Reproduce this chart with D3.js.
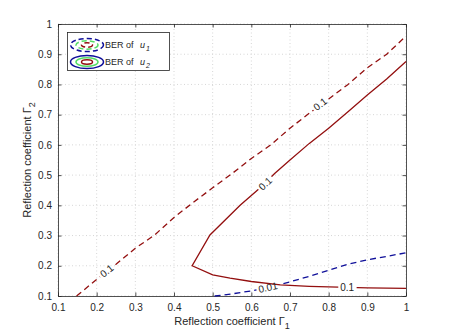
<!DOCTYPE html>
<html>
<head>
<meta charset="utf-8">
<script src="https://cdn.jsdelivr.net/npm/d3@7"></script>
<style>
  body { margin: 0; background: #fff; }
  text { font-family: "Liberation Sans", Arial, sans-serif; fill: #262626; }
</style>
</head>
<body>
<div id="chart"></div>
<script>
// contour data: [gamma1, gamma2]
const u1Contour01 = [[0.148,0.1],[0.2,0.155],[0.25,0.205],[0.3,0.258],[0.35,0.302],[0.4,0.36],[0.45,0.41],[0.5,0.458],[0.55,0.505],[0.6,0.555],[0.65,0.6],[0.7,0.655],[0.75,0.705],[0.8,0.752],[0.85,0.8],[0.9,0.855],[0.95,0.9],[1,0.96]];
const u1Contour001 = [[0.505,0.1],[0.55,0.107],[0.6,0.117],[0.65,0.13],[0.7,0.147],[0.75,0.165],[0.8,0.185],[0.85,0.205],[0.9,0.22],[0.95,0.231],[1,0.243]];
const u2Contour01 = [[1,0.876],[0.95,0.818],[0.9,0.765],[0.85,0.71],[0.8,0.655],[0.75,0.605],[0.7,0.55],[0.661,0.506],[0.62,0.455],[0.571,0.4],[0.493,0.302],[0.447,0.2],[0.5,0.17],[0.545,0.159],[0.6,0.148],[0.675,0.137],[0.75,0.132],[0.8,0.13],[0.9,0.127],[1,0.125]];

// label positions [x, y, text, angle]
const u1Labels01 = [[0.226,0.183,"0.1",-38],[0.778,0.735,"0.1",-38]];
const u1Labels001 = [[0.643,0.128,"0.01",-12]];
const u2Labels01 = [[0.636,0.472,"0.1",-43],[0.848,0.127,"0.1",0]];

const xTicks = [0.1,0.2,0.3,0.4,0.5,0.6,0.7,0.8,0.9,1];
const yTicks = [0.1,0.2,0.3,0.4,0.5,0.6,0.7,0.8,0.9,1];

const width = 449, height = 336;
const margin = { left: 58, right: 43, top: 24, bottom: 40 };
const red = "#930f0f", blue = "#10109a", green = "#55dd66";

const svg = d3.select("#chart").append("svg")
  .attr("width", width).attr("height", height);

const x = d3.scaleLinear().domain([0.1, 1]).range([margin.left, width - margin.right]);
const y = d3.scaleLinear().domain([0.1, 1]).range([height - margin.bottom, margin.top]);

//grid
svg.append("g").selectAll("line").data(xTicks).enter().append("line")
  .attr("x1", d => x(d)).attr("x2", d => x(d))
  .attr("y1", y(0.1)).attr("y2", y(1))
  .attr("stroke", "#d6d6d6").attr("stroke-dasharray", "1,2.5");
svg.append("g").selectAll("line").data(yTicks).enter().append("line")
  .attr("y1", d => y(d)).attr("y2", d => y(d))
  .attr("x1", x(0.1)).attr("x2", x(1))
  .attr("stroke", "#d6d6d6").attr("stroke-dasharray", "1,2.5");

//axes
const fmt = d => d === 1 ? "1" : d3.format(".1f")(d);
const tickLen = 3.5;
const xAxis = svg.append("g").attr("transform", `translate(0,${y(0.1)})`)
  .call(d3.axisBottom(x).tickValues(xTicks).tickFormat(fmt).tickSizeInner(-tickLen).tickSizeOuter(0).tickPadding(8));
const xAxisTop = svg.append("g").attr("transform", `translate(0,${y(1)})`)
  .call(d3.axisTop(x).tickValues(xTicks).tickFormat("").tickSizeInner(-tickLen).tickSizeOuter(0));
const yAxis = svg.append("g").attr("transform", `translate(${x(0.1)},0)`)
  .call(d3.axisLeft(y).tickValues(yTicks).tickFormat(fmt).tickSizeInner(-tickLen).tickSizeOuter(0).tickPadding(6));
const yAxisRight = svg.append("g").attr("transform", `translate(${x(1)},0)`)
  .call(d3.axisRight(y).tickValues(yTicks).tickFormat("").tickSizeInner(-tickLen).tickSizeOuter(0));

[xAxis, xAxisTop, yAxis, yAxisRight].forEach(g => {
  g.select(".domain").attr("stroke", "#262626").attr("stroke-width", 0.8);
  g.selectAll(".tick line").attr("stroke", "#262626").attr("stroke-width", 0.8);
  g.selectAll("text").attr("font-size", 10).attr("fill", "#262626")
    .attr("font-family", "Liberation Sans, Arial, sans-serif");
});

//contour lines + labels, masks cut gaps in the lines
const defs = svg.append("defs");
const line = d3.line().x(d => x(d[0])).y(d => y(d[1]));
const lineLayer = svg.append("g");
const labelLayer = svg.append("g");

function drawContour(id, pts, labels, color, dash) {
  const mask = defs.append("mask").attr("id", id)
    .attr("maskUnits", "userSpaceOnUse")
    .attr("x", 0).attr("y", 0).attr("width", width).attr("height", height);
  mask.append("rect").attr("width", width).attr("height", height).attr("fill", "#fff");

  labels.forEach(l => {
    const t = labelLayer.append("text")
      .attr("transform", `translate(${x(l[0])},${y(l[1])}) rotate(${l[3]})`)
      .attr("text-anchor", "middle").attr("dy", "0.35em")
      .attr("font-size", 10).text(l[2]);
    const bb = t.node().getBBox();
    mask.append("rect")
      .attr("x", bb.x - 2).attr("y", bb.y)
      .attr("width", bb.width + 4).attr("height", bb.height)
      .attr("transform", `translate(${x(l[0])},${y(l[1])}) rotate(${l[3]})`)
      .attr("fill", "#000");
  });

  lineLayer.append("path")
    .datum(pts)
    .attr("d", line)
    .attr("fill", "none")
    .attr("stroke", color)
    .attr("stroke-width", 1.3)
    .attr("stroke-dasharray", dash ? "6,4" : null)
    .attr("mask", `url(#${id})`);
}

drawContour("m1", u1Contour01, u1Labels01, red, true);
drawContour("m2", u1Contour001, u1Labels001, blue, true);
drawContour("m3", u2Contour01, u2Labels01, red, false);

//axis titles
const xTitle = svg.append("text")
  .attr("x", (x(0.1) + x(1)) / 2).attr("y", 325)
  .attr("text-anchor", "middle").attr("font-size", 11);
xTitle.append("tspan").text("Reflection coefficient \u0393");
xTitle.append("tspan").attr("dy", 4).attr("font-size", 9).text("1");

const yTitle = svg.append("text")
  .attr("transform", `translate(31,${(y(0.1) + y(1)) / 2}) rotate(-90)`)
  .attr("text-anchor", "middle").attr("font-size", 11);
yTitle.append("tspan").text("Reflection coefficient \u0393");
yTitle.append("tspan").attr("dy", 4).attr("font-size", 9).text("2");

//legend
const legend = svg.append("g").attr("id", "legend");
legend.append("rect")
  .attr("x", 67.5).attr("y", 32.5).attr("width", 102).attr("height", 38)
  .attr("fill", "#fff").attr("stroke", "#262626").attr("stroke-width", 0.8);

const legendItems = [
  { sub: "1", dash: true, cy: 45 },
  { sub: "2", dash: false, cy: 62 },
];
const rings = [[16.5, 6.5, blue], [11, 4.2, green], [5.5, 2.2, red]];

legendItems.forEach(item => {
  rings.forEach(r => {
    legend.append("ellipse")
      .attr("cx", 87).attr("cy", item.cy)
      .attr("rx", r[0]).attr("ry", r[1])
      .attr("fill", "none").attr("stroke", r[2]).attr("stroke-width", 1.5)
      .attr("stroke-dasharray", item.dash ? "5,3" : null);
  });
  const t = legend.append("text")
    .attr("x", 105).attr("y", item.cy + 3).attr("font-size", 9);
  t.append("tspan").text("BER of ");
  t.append("tspan").attr("dx", 4).attr("font-style", "italic").text("u");
  t.append("tspan").attr("dy", 3).attr("dx", 1).attr("font-size", 7).attr("font-style", "italic").text(item.sub);
});
</script>
</body>
</html>
